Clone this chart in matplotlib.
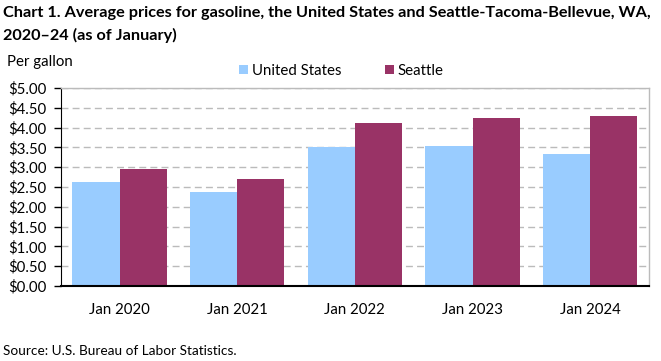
import matplotlib
matplotlib.use("Agg")
import matplotlib.pyplot as plt
import numpy as np
from matplotlib.ticker import FuncFormatter

categories = ["Jan 2020", "Jan 2021", "Jan 2022", "Jan 2023", "Jan 2024"]
us_values = [2.63, 2.37, 3.50, 3.54, 3.33]
seattle_values = [2.95, 2.70, 4.12, 4.24, 4.29]
series_names = ["United States", "Seattle"]
yticks = [0, 0.5, 1, 1.5, 2, 2.5, 3, 3.5, 4, 4.5, 5]

plt.rcParams['font.family'] = ['Lato', 'DejaVu Sans']

W, H = 661, 361
fig = plt.figure(figsize=(W/100, H/100), dpi=100)
ax = fig.add_axes([60.7/W, 1-286/H, (649-60.7)/W, (286-88)/H])

x = np.arange(len(categories))
bw = 0.4
ax.bar(x - bw/2, us_values, bw, color="#99CCFF", label=series_names[0], zorder=2)
ax.bar(x + bw/2, seattle_values, bw, color="#993366", label=series_names[1], zorder=2)

ax.set_xlim(-0.5, len(categories)-0.5)
ax.set_ylim(0, 5)
ax.set_yticks(yticks)
ax.yaxis.set_major_formatter(FuncFormatter(lambda v, p: f"${v:.2f}"))
ax.set_xticks(x)
ax.set_xticklabels(categories)
ax.tick_params(axis='x', length=0, pad=12, labelsize=10.8, colors='black')
ax.tick_params(axis='y', length=5, width=1, pad=5, labelsize=10.8, direction='out', colors='black')
ax.grid(axis='y', color='#BBBBBB', linestyle=(0, (5, 3)), linewidth=1, zorder=0)
ax.set_axisbelow(True)
for s in ['top', 'right']:
    ax.spines[s].set_color('#BBBBBB')
    ax.spines[s].set_linewidth(1)
ax.spines['left'].set_color('black')
ax.spines['bottom'].set_color('black')
ax.spines['bottom'].set_linewidth(1.5)

fig.text(3/W, 1-13/H, "Chart 1. Average prices for gasoline, the United States and Seattle-Tacoma-Bellevue, WA,",
         fontsize=11.7, fontweight='bold', va='center', ha='left')
fig.text(3/W, 1-35/H, "2020\u201324 (as of January)",
         fontsize=11.7, fontweight='bold', va='center', ha='left')
fig.text(7/W, 1-62/H, "Per gallon", fontsize=10.8, va='center', ha='left')
fig.text(3/W, 1-351/H, "Source: U.S. Bureau of Labor Statistics.", fontsize=9.8, va='center', ha='left')

fig.legend(loc='center', bbox_to_anchor=(341/W, 1-71/H), ncol=2, frameon=False,
           fontsize=10.8, handlelength=0.6, handleheight=0.6, handletextpad=0.25, columnspacing=2.9)

fig.savefig("out.png", dpi=100)
